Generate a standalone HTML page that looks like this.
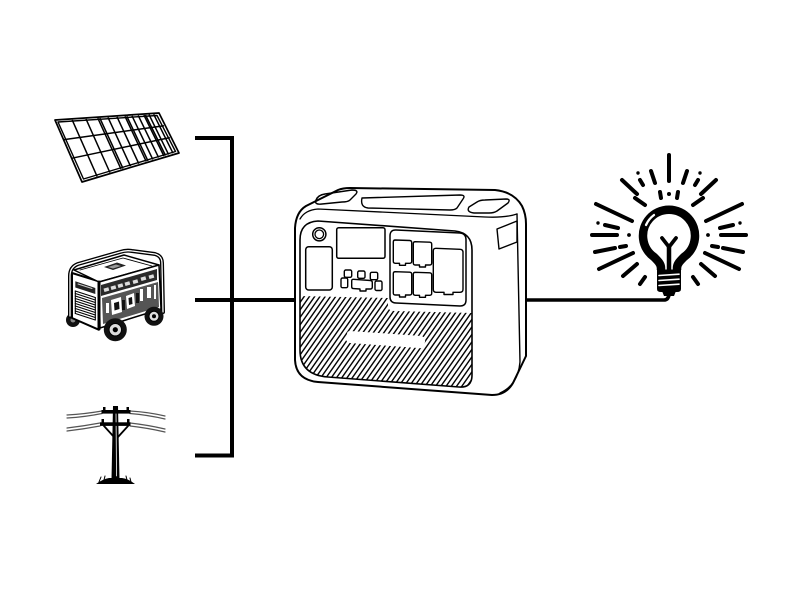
<!DOCTYPE html>
<html><head><meta charset="utf-8"><style>
html,body{margin:0;padding:0;background:#fff;}
svg{display:block;}
</style></head><body>
<svg width="800" height="600" viewBox="0 0 800 600" xmlns="http://www.w3.org/2000/svg">
<defs>
<pattern id="h" width="4.3" height="10" patternUnits="userSpaceOnUse" patternTransform="rotate(35)">
<line x1="2.15" y1="-1" x2="2.15" y2="11" stroke="#000" stroke-width="1.4"/>
</pattern>
<clipPath id="hc"><path d="M300,296 L388,298 L388,308 Q390,311 395,311 L472,313 L472,375 Q472,388 459,387 L328,377 Q300,375 300,350 Z"/></clipPath>
</defs>
<rect width="800" height="600" fill="#fff"/>

<!-- connectors -->
<path d="M195,138 H232 V455.5 H195" fill="none" stroke="#000" stroke-width="4"/>
<path d="M195,300 H296" fill="none" stroke="#000" stroke-width="4"/>
<path d="M522,300 L664,300 Q668,300 669,295" fill="none" stroke="#000" stroke-width="3.6"/>

<!-- solar panel -->
<g fill="none" stroke="#000" stroke-linejoin="round">
<path d="M55,120 L159,113 L179,153 L82,182 Z" stroke-width="1.7" fill="#fff"/>
<path d="M58,122 L157,115.5 L175.5,151.5 L83.5,179 Z" stroke-width="1.4"/>
<g stroke-width="1.5">
<path d="M72.2,119.9 L97.1,176.4"/>
<path d="M86,118.9 L109.9,172.5"/>
<path d="M97.8,118.1 L121,169.1"/><path d="M99.8,118 L123,168.5"/>
<path d="M108,117.4 L130.5,166.2"/>
<path d="M117,116.8 L138.8,163.7"/>
<path d="M125,116.3 L146.2,161.4"/><path d="M126.8,116.2 L148,160.9"/>
<path d="M132,115.8 L152.8,159.4"/>
<path d="M138.2,115.4 L158.6,157.6"/>
<path d="M143.9,115 L163.9,156"/><path d="M145.5,114.9 L165.5,155.5"/>
<path d="M149,114.6 L168.6,154.6"/>
<path d="M153.7,114.3 L173,153.2"/>
<path d="M64.1,139.6 L163.9,125.8"/>
<path d="M72.1,158.2 L169.8,137.6"/>
</g>
</g>

<!-- generator -->
<g stroke="#000" stroke-linejoin="round" stroke-linecap="round">
<circle cx="73" cy="320" r="7" fill="#111" stroke="none"/>
<circle cx="73" cy="320" r="2.5" fill="#888" stroke="none"/>
<path d="M72,273 L98.7,281.3 L98.7,329.7 L72,318 Z" fill="#fff" stroke-width="2"/>
<path d="M75.3,281.3 L95.3,288 L95.3,294 L75.3,287.5 Z" fill="#222" stroke="none"/>
<path d="M78,284 L92,288.5" stroke="#ccc" stroke-width="1"/>
<g stroke-width="1.1" fill="none">
<path d="M75.3,291 L95.3,297.5"/><path d="M75.3,293.5 L95.3,300"/><path d="M75.3,296 L95.3,302.5"/>
<path d="M75.3,298.5 L95.3,305"/><path d="M75.3,301 L95.3,307.5"/><path d="M75.3,303.5 L95.3,310"/>
<path d="M75.3,306 L95.3,312.5"/><path d="M75.3,308.5 L95.3,315"/><path d="M75.3,311 L95.3,317.5"/>
<path d="M75.3,313.5 L95.3,320"/><path d="M75.3,291 L75.3,313.5"/><path d="M95.3,297.5 L95.3,320"/>
</g>
<path d="M74,270 L124,255 L159,265 L99,282 Z" fill="#fff" stroke-width="1.5"/>
<path d="M80,270 L123,258 L152,266" fill="none" stroke-width="0.9"/>
<path d="M104,267 L117,262.5 L126,265.5 L113,270 Z" fill="#222" stroke="none"/>
<path d="M108,267 L116,264.5 L121,266 L113,268.5 Z" fill="#999" stroke="none"/>
<path d="M99,282 L159,265 L161,309 L100,328 Z" fill="#fff" stroke-width="1.5"/>
<path d="M101,285 L157,269 L157,280 L101,296 Z" fill="#2a2a2a" stroke="none"/>
<g fill="#ddd" stroke="none">
<rect x="104" y="288" width="5" height="3.5" transform="rotate(-16 106 290)"/>
<rect x="111" y="286" width="5" height="3.5" transform="rotate(-16 113 288)"/>
<rect x="118" y="284" width="5" height="3.5" transform="rotate(-16 120 286)"/>
<rect x="125" y="282" width="5" height="3.5" transform="rotate(-16 127 284)"/>
<rect x="133" y="280" width="5" height="3.5" transform="rotate(-16 135 282)"/>
<rect x="141" y="277" width="5" height="3.5" transform="rotate(-16 143 279)"/>
<rect x="149" y="275" width="5" height="3.5" transform="rotate(-16 151 277)"/>
</g>
<path d="M102,298 L158,282 L159,307 L103,324 Z" fill="#555" stroke="none"/>
<g fill="#fff" stroke="none">
<path d="M111,300 L121,297 L122,312 L112,315 Z"/>
<path d="M126,296 L134,293 L135,306 L127,309 Z"/>
<rect x="106" y="303" width="3" height="10"/>
<rect x="140" y="289" width="3" height="12"/>
<rect x="147" y="287" width="4" height="11"/>
<rect x="154" y="285" width="2" height="14"/>
</g>
<g fill="#111" stroke="none">
<path d="M114,303 L119,301.5 L119.5,309 L114.5,310.5 Z"/>
<path d="M128.5,298 L132,297 L132.5,304 L129,305 Z"/>
<rect x="122" y="300" width="3" height="10"/>
<rect x="136" y="293" width="3" height="10"/>
</g>
<path d="M70,316 L70,276 Q70,267 78,264 L120,252 Q126,250 132,251 L155,254 Q162,256 162,263 L163,312" fill="none" stroke-width="4"/>
<path d="M70,316 L70,276 Q70,267 78,264 L120,252 Q126,250 132,251 L155,254 Q162,256 162,263 L163,312" fill="none" stroke="#fff" stroke-width="1.3"/>
<path d="M99,282 L99,329" fill="none" stroke-width="3"/>
<circle cx="115.3" cy="329.7" r="11.5" fill="#111" stroke="none"/>
<circle cx="115.3" cy="329.7" r="6.2" fill="#ddd" stroke="#000" stroke-width="1"/>
<circle cx="115.3" cy="329.7" r="2.6" fill="#000" stroke="none"/>
<circle cx="154" cy="316.3" r="9.5" fill="#111" stroke="none"/>
<circle cx="154" cy="316.3" r="5" fill="#ddd" stroke="#000" stroke-width="1"/>
<circle cx="154" cy="316.3" r="2" fill="#000" stroke="none"/>
</g>

<!-- power pole -->
<g stroke-linecap="round">
<g fill="none" stroke="#555" stroke-width="1.2">
<path d="M67,415 Q85,414 102,411"/>
<path d="M67,418 Q85,417 102,413.5"/>
<path d="M67,428 Q84,426 100,423"/>
<path d="M67,431 Q84,429 100,426"/>
<path d="M130,411 Q148,412 165,416"/>
<path d="M130,413.5 Q148,415 165,419"/>
<path d="M130,423 Q148,425 165,429"/>
<path d="M130,426 Q148,428 165,432"/>
</g>
<path d="M113,406 L118,406 L119.5,479 L111.5,479 Z" fill="#000"/>
<path d="M116,412 L116.5,476" stroke="#fff" stroke-width="0.8"/>
<rect x="101.5" y="410" width="29" height="3.6" fill="#000"/>
<rect x="100" y="422.3" width="30.5" height="3.6" fill="#000"/>
<rect x="103" y="407" width="2.5" height="4" fill="#000"/>
<rect x="126.5" y="407" width="2.5" height="4" fill="#000"/>
<rect x="101.5" y="419" width="2.5" height="4" fill="#000"/>
<rect x="127" y="419" width="2.5" height="4" fill="#000"/>
<path d="M104,426 L114,437 M128,426 L118,437" stroke="#000" stroke-width="1.8" fill="none"/>
<path d="M96,484 Q103,479 109,478 L122,478 Q129,479 135,484 Z" fill="#000"/>
<path d="M99,482 L101,477 M104,480 L105,476 M127,480 L126,476 M131,482 L130,478" stroke="#000" stroke-width="1"/>
</g>

<!-- power station -->
<g fill="none" stroke="#000" stroke-linejoin="round" stroke-linecap="round">
<path d="M295,360 L295,228 Q296,212 306,206 L338,190 Q343,188 350,188 L495,190 Q514,192 522,206 Q526,214 526,224 L526,356 L513,383 Q506,395 492,395 L318,382 Q296,380 295,360 Z" fill="#fff" stroke-width="2"/>
<path d="M517,214 L520,362 Q518,385 500,393" stroke-width="1.4"/>
<path d="M300,219 Q305,210 318,209 L485,217 Q505,218 517,214" stroke-width="1.3"/>
<path d="M316,200 Q318,195 325,194 L352,190 Q359,190 356,194 L350,200 Q348,202 342,202 L322,204 Q314,205 316,200 Z" stroke-width="1.4"/>
<path d="M362,198 L460,195 Q466,195 463,199 L457,208 Q455,210 450,210 L368,208 Q360,207 362,198 Z" stroke-width="1.4"/>
<path d="M469,207 L477,202 Q480,200 485,200 L506,199 Q511,199 508,203 L497,211 Q494,213 489,213 L474,213 Q466,212 469,207 Z" stroke-width="1.4"/>
<path d="M497,229 L517,221 L517,242 L499,249 Z" stroke-width="1.4"/>
<path d="M300,240 Q300,222 318,221 L455,231 Q472,233 472,250 L472,375 Q472,388 459,387 L328,377 Q300,375 300,350 Z" stroke-width="1.6"/>
<rect x="300" y="290" width="175" height="100" fill="url(#h)" stroke="none" clip-path="url(#hc)"/>
<path d="M350,331 L421,336 Q426,337 425,342 L424,345 Q423,349 418,348 L350,343 Q345,342 346,337 L347,334 Q347,331 350,331 Z" fill="#fff" stroke="none"/>
<circle cx="319.3" cy="234.3" r="6.6" stroke-width="1.5"/>
<circle cx="319.3" cy="234.3" r="4.3" stroke-width="1.3"/>
<rect x="336.7" y="227.7" width="48.3" height="30.6" rx="2" stroke-width="1.5"/>
<rect x="305.7" y="246.7" width="26.6" height="43.3" rx="3" stroke-width="1.5"/>
<rect x="344.3" y="270" width="7.4" height="7.3" rx="1.5" stroke-width="1.4"/>
<rect x="357.7" y="271" width="7.3" height="7.3" rx="1.5" stroke-width="1.4"/>
<rect x="370.3" y="272.3" width="7.4" height="7.4" rx="1.5" stroke-width="1.4"/>
<rect x="341" y="278" width="6.7" height="9.7" rx="1.5" stroke-width="1.4"/>
<path d="M353.5,279.3 L370.5,280.5 Q372.3,280.6 372.3,282.5 L372.3,287 Q372.3,289 370.5,289 L366,289 L366,291 L360,291 L360,289 L353.5,288.6 Q351.7,288.5 351.7,286.7 L351.7,281 Q351.7,279.2 353.5,279.3 Z" stroke-width="1.4"/>
<rect x="375" y="281" width="7" height="9.5" rx="1.5" stroke-width="1.4"/>
<path d="M396,230 L460,233 Q466,233.5 466,240 L466,300 Q466,306 460,306 L396,303 Q390,302.7 390,297 L390,236 Q390,229.7 396,230 Z" stroke-width="1.5"/>
<path d="M395.3,240 L409.7,240.5 Q411.7,240.6 411.7,242.5 L411.7,261.3 Q411.7,263.3 409.7,263.3 L405.5,263.3 L405.5,265.3 L399.5,265.3 L399.5,263.3 L395.3,263.3 Q393.3,263.3 393.3,261.3 L393.3,242 Q393.3,240 395.3,240 Z" stroke-width="1.4"/>
<path d="M415.3,241.7 L429.7,242.2 Q431.7,242.3 431.7,244.2 L431.7,263 Q431.7,265 429.7,265 L425.5,265 L425.5,267 L419.5,267 L419.5,265 L415.3,265 Q413.3,265 413.3,263 L413.3,243.7 Q413.3,241.7 415.3,241.7 Z" stroke-width="1.4"/>
<path d="M395.3,271.7 L409.7,272.2 Q411.7,272.3 411.7,274.2 L411.7,293 Q411.7,295 409.7,295 L405.5,295 L405.5,297 L399.5,297 L399.5,295 L395.3,295 Q393.3,295 393.3,293 L393.3,273.7 Q393.3,271.7 395.3,271.7 Z" stroke-width="1.4"/>
<path d="M415.3,272.3 L429.7,272.8 Q431.7,272.9 431.7,274.8 L431.7,293.3 Q431.7,295.3 429.7,295.3 L425.5,295.3 L425.5,297.3 L419.5,297.3 L419.5,295.3 L415.3,295.3 Q413.3,295.3 413.3,293.3 L413.3,274.3 Q413.3,272.3 415.3,272.3 Z" stroke-width="1.4"/>
<path d="M436,248.3 L460,249.3 Q463,249.4 463,252.3 L463,289.3 Q463,292.3 460,292.3 L453,292.3 L453,294.5 L444,294.5 L444,292.3 L436,292.3 Q433.3,292.3 433.3,289.3 L433.3,251 Q433.3,248.2 436,248.3 Z" stroke-width="1.4"/>
</g>

<!-- light bulb -->
<g stroke="#000" stroke-linecap="round" fill="none">
<g stroke-width="4">
<path d="M669,155 L669,181"/>
<path d="M651,171 L655,183"/><path d="M687,171 L683,183"/>
<path d="M640,180 L643,185"/><path d="M698,180 L695,185"/>
<path d="M660,192 L661,198"/><path d="M678,192 L677,198"/>
<path d="M622,180 L637,194"/><path d="M716,180 L701,194"/>
<path d="M635,198 L645,205"/><path d="M703,198 L693,205"/>
<path d="M596,204 L632,221"/><path d="M742,204 L706,221"/>
<path d="M605,225 L618,228"/><path d="M733,225 L720,228"/>
<path d="M592,235 L617,235"/><path d="M746,235 L721,235"/>
<path d="M595,252 L615,248"/><path d="M743,252 L723,248"/>
<path d="M620,247 L626,246"/><path d="M718,247 L712,246"/>
<path d="M599,269 L633,253"/><path d="M739,269 L705,253"/>
<path d="M623,276 L637,264"/><path d="M715,276 L701,264"/>
<path d="M640,284 L645,277"/><path d="M698,284 L693,277"/>
</g>
<g fill="#000" stroke="none">
<circle cx="669" cy="194" r="2"/>
<circle cx="638" cy="173" r="1.7"/><circle cx="700" cy="173" r="1.7"/>
<circle cx="598" cy="223" r="1.7"/><circle cx="740" cy="223" r="1.7"/>
<circle cx="629" cy="235" r="1.9"/><circle cx="708" cy="235" r="1.9"/>
</g>
<path d="M661,270 L661,268 C661,264 658,261 654,257 A26,26 0 1 1 684,257 C680,261 677,264 677,268 L677,270" fill="#fff" stroke-width="8.5" stroke-linecap="butt"/>
<path d="M646,225 A25,25 0 0 1 654,215" stroke="#fff" stroke-width="2.3"/>
<path d="M662,238 L669,247 L676,238" stroke-width="3.8" stroke-linejoin="round"/>
<path d="M669,247 L669,270" stroke-width="4.5"/>
<path d="M657,269.5 L681,269.5 L681,289 Q681,292 677,292 L661,292 Q657,292 657,289 Z" fill="#000" stroke="none"/>
<path d="M659,275.5 L679,274.2 M659,280.5 L679,279.2 M659,285.5 L679,284.2" stroke="#fff" stroke-width="1.6"/>
<path d="M662,291 L676,291 L674,296 L664,296 Z" fill="#000" stroke="none"/>
</g>
</svg>
</body></html>
